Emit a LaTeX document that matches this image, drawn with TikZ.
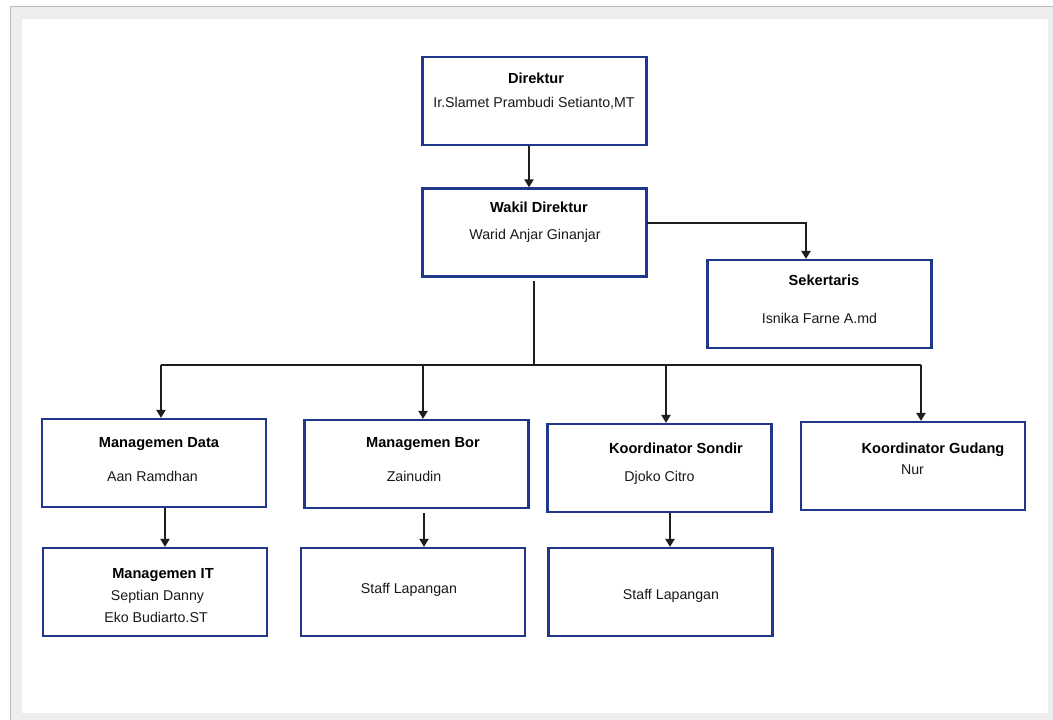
\documentclass[tikz,border=0pt]{standalone}
\usepackage{fontspec}
\setmainfont{Liberation Sans}
\usetikzlibrary{arrows.meta,calc}
\definecolor{bandgrey}{HTML}{EEEEEE}
\definecolor{edgegrey}{HTML}{BBBBBB}
\definecolor{boxblue}{RGB}{32,56,140}
\definecolor{linecol}{HTML}{1E1E1E}
\begin{document}
\begin{tikzpicture}[x=1pt,y=-1pt,
  orgbox/.style={draw=boxblue, line width=2.2pt, fill=white, rectangle, inner sep=0pt,
    minimum width=224pt, minimum height=88pt},
  ttl/.style={anchor=base, inner sep=0pt, font=\fontsize{14.6}{17}\selectfont\bfseries, text=black},
  nm/.style={anchor=base, inner sep=0pt, font=\fontsize{14.2}{17}\selectfont, text=black!90},
  arr/.style={draw=linecol, line width=2pt, -{Triangle[length=8pt,width=9pt]}},
  ln/.style={draw=linecol, line width=2pt}]
% background / frame
\fill[white] (0,0) rectangle (1053,720);
\useasboundingbox (0,0) rectangle (1053,720);
\fill[bandgrey] (10,6) rectangle (1053,720);
\draw[edgegrey, line width=1.3pt] (10.6,720) -- (10.6,6.6) -- (1053,6.6);
\fill[white] (22,19) rectangle (1048,713);

% boxes
\node[orgbox] (dir) at (534.5,101) {};
\node[orgbox] (wak) at (534.5,232.5) {};
\node[orgbox] (sek) at (819.5,304) {};
\node[orgbox] (mdata) at (154,463) {};
\node[orgbox] (mbor) at (416.5,464) {};
\node[orgbox] (kson) at (659.5,468) {};
\node[orgbox] (kgud) at (913,466) {};
\node[orgbox] (mit) at (155,592) {};
\node[orgbox] (staffa) at (413,592) {};
\node[orgbox] (staffb) at (660.5,592) {};

% texts
\node[ttl] (tdir) at (536,83) {Direktur};
\node[nm] (ndir) at (534,107) {Ir.Slamet Prambudi Setianto,MT};
\node[ttl] (twak) at (539,212) {Wakil Direktur};
\node[nm] (nwak) at (535,239) {Warid Anjar Ginanjar};
\node[ttl] (tsek) at (824,285) {Sekertaris};
\node[nm] (nsek) at (819.5,323) {Isnika Farne A.md};
\node[ttl] (tmdata) at (159,447) {Managemen Data};
\node[nm] (nmdata) at (152.5,481) {Aan Ramdhan};
\node[ttl] (tmbor) at (423,447) {Managemen Bor};
\node[nm] (nmbor) at (414,481) {Zainudin};
\node[ttl] (tkson) at (676,453) {Koordinator Sondir};
\node[nm] (nkson) at (659.5,481) {Djoko Citro};
\node[ttl] (tkgud) at (933,453) {Koordinator Gudang};
\node[nm] (nkgud) at (912.5,474) {Nur};
\node[ttl] (tmit) at (163,578) {Managemen IT};
\node[nm] (nmit1) at (157.5,600) {Septian Danny};
\node[nm] (nmit2) at (156,622) {Eko Budiarto.ST};
\node[nm] (nstaffa) at (409,593) {Staff Lapangan};
\node[nm] (nstaffb) at (671,599) {Staff Lapangan};

% connector points
\coordinate (bus) at (534,365);
\coordinate (b1) at (161,365);
\coordinate (b2) at (423,365);
\coordinate (b3) at (666,365);
\coordinate (b4) at (921,365);
\coordinate (wsec) at (647,223);
\coordinate (sekc) at (806,223);

% connectors
\draw[arr] (dir.south -| 529,0) -- (wak.north -| 529,0);
\draw[arr] (wsec) -- (sekc) -- (sekc |- sek.north);
\draw[ln] ($(wak.south)+(-0.5,3)$) -- (bus);
\draw[ln] (b1) -- (b4);
\draw[arr] (b1) -- (b1 |- mdata.north);
\draw[arr] (b2) -- (b2 |- mbor.north);
\draw[arr] (b3) -- (b3 |- kson.north);
\draw[arr] (b4) -- (b4 |- kgud.north);
\draw[arr] (mdata.south -| 165,0) -- (mit.north -| 165,0);
\draw[arr] ($(mbor.south -| 424,0)+(0,4)$) -- (staffa.north -| 424,0);
\draw[arr] (kson.south -| 670,0) -- (staffb.north -| 670,0);
\end{tikzpicture}
\end{document}
